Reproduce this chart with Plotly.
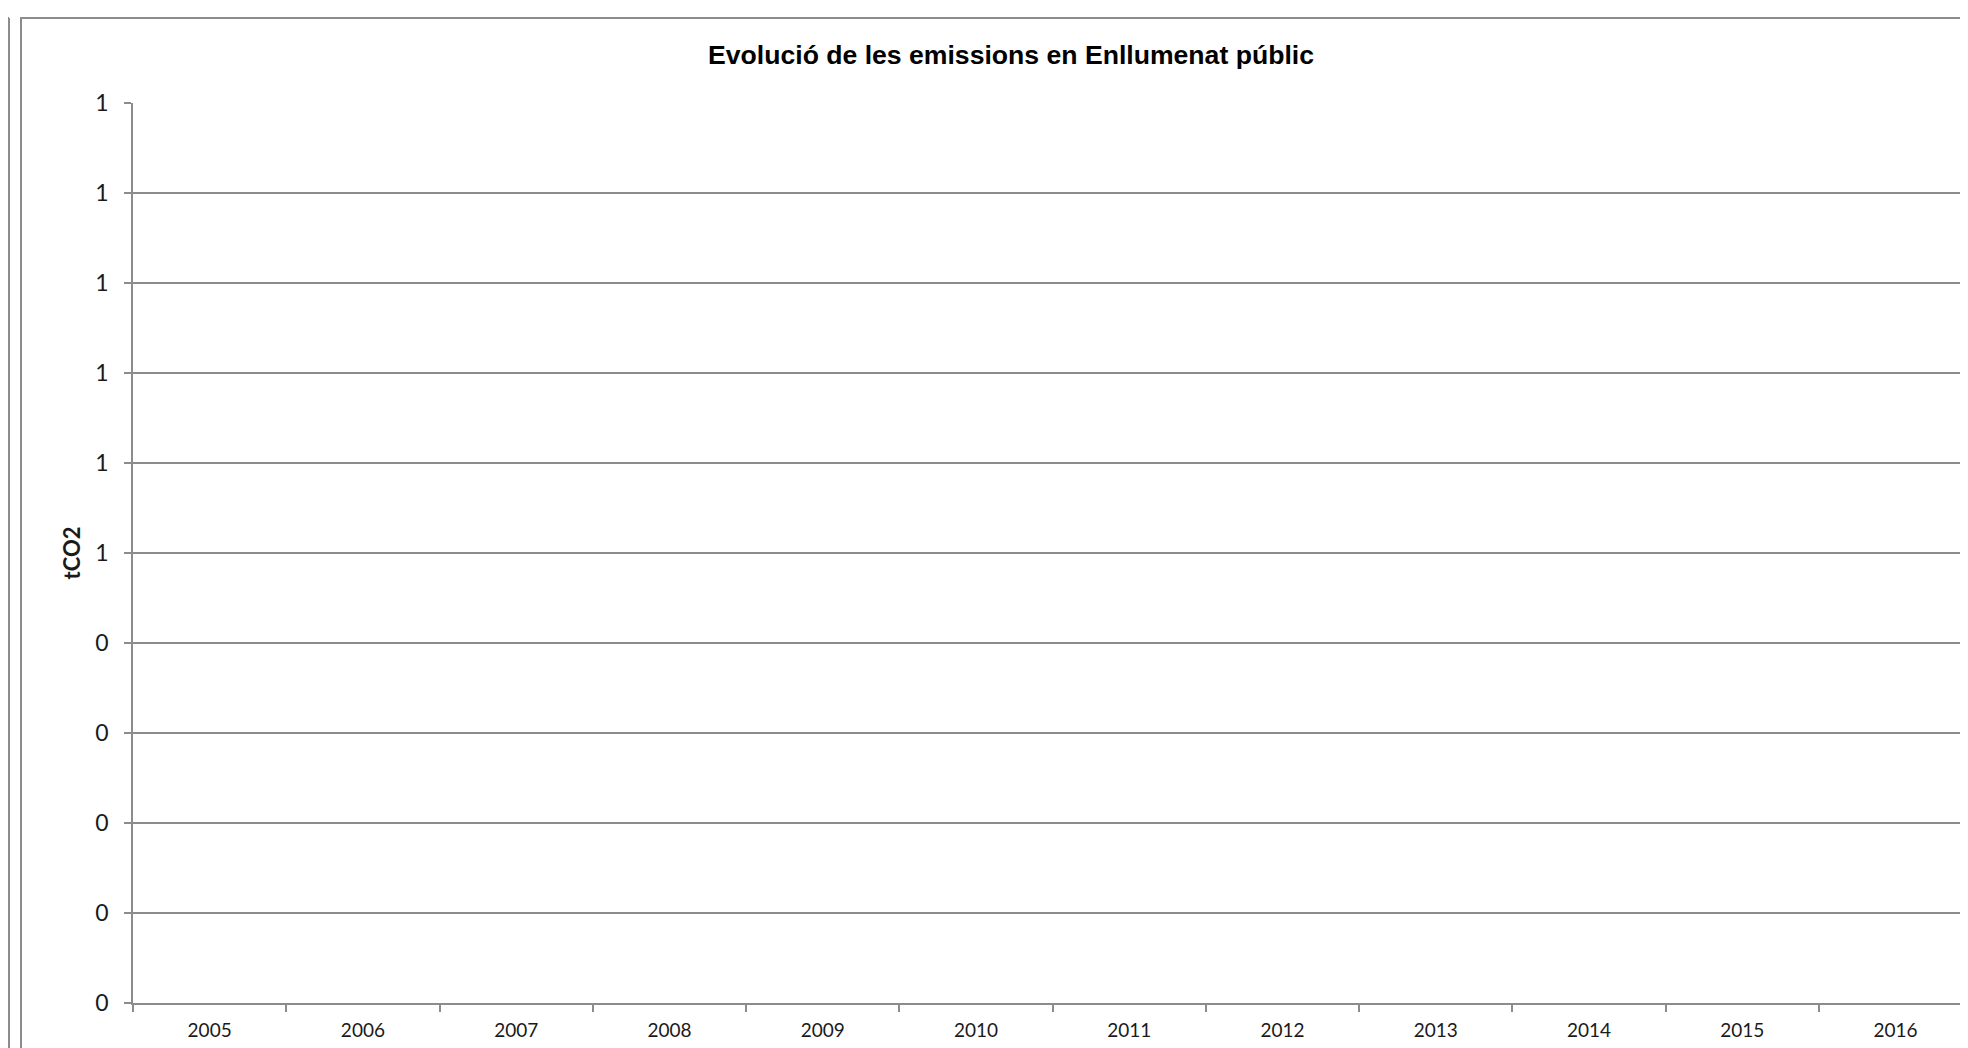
import plotly.graph_objects as go

# ---- data (the reference chart is empty: no values plotted) ----
years = ["2005", "2006", "2007", "2008", "2009", "2010",
         "2011", "2012", "2013", "2014", "2015", "2016"]
emissions = [None, None, None, None, None, None,
             None, None, None, None, None, None]
y_tickvals = [0.0, 0.1, 0.2, 0.3, 0.4, 0.5, 0.6, 0.7, 0.8, 0.9, 1.0]
y_ticktext = ["0", "0", "0", "0", "0", "1", "1", "1", "1", "1", "1"]
title_text = "Evolució de les emissions en Enllumenat públic"
y_title = "tCO2"

# the page body has an 8px margin, so the figure is 8px smaller than the window
OFF = 8
W, H = 1968 - OFF, 1048 - OFF
L, T = 133 - OFF, 103 - OFF
B = H - (1003 - OFF)
GRID = "#8c8c8c"
TXT = "#1a1a1a"

plot_w = W - L
plot_h = H - T - B
cat_w = 153.27

def px_x(px):  # page pixel -> paper coordinate
    return (px - OFF - L) / plot_w

def px_y(py):
    return (H - B - (py - OFF)) / plot_h

fig = go.Figure()
fig.add_trace(go.Scatter(x=years, y=emissions, mode="lines",
                         line=dict(color="#4f81bd"), showlegend=False,
                         hoverinfo="skip"))

fig.update_layout(
    width=W, height=H,
    margin=dict(l=L, r=0, t=T, b=B, pad=0),
    paper_bgcolor="white", plot_bgcolor="white",
    showlegend=False,
    title=dict(text=title_text,
               font=dict(family="Liberation Sans, Arial", size=26.6, color="#000000",
                         weight="bold"),
               x=(1011 - OFF) / W, xanchor="center",
               y=1 - (55 - OFF) / H, yanchor="middle",
               xref="container", yref="container"),
    xaxis=dict(
        type="category",
        categoryorder="array", categoryarray=years,
        range=[-0.5, -0.5 + plot_w / cat_w],
        showgrid=False, zeroline=False,
        showline=True, linecolor=GRID, linewidth=1.5,
        ticks="outside", tickson="boundaries", ticklen=7,
        tickcolor=GRID, tickwidth=1.5,
        ticklabelstandoff=9,
        tickfont=dict(family="Lato, Carlito, Calibri", size=19, color=TXT),
        fixedrange=True,
    ),
    yaxis=dict(
        range=[0, 1],
        tickmode="array", tickvals=y_tickvals, ticktext=y_ticktext,
        showgrid=True, gridcolor=GRID, gridwidth=1.5,
        zeroline=False,
        showline=True, linecolor=GRID, linewidth=1.5,
        ticks="outside", ticklen=7, tickcolor=GRID, tickwidth=1.5,
        ticklabelstandoff=11,
        tickfont=dict(family="Lato, Carlito, Calibri", size=23, color=TXT),
        title=dict(text=y_title,
                   font=dict(family="Lato, Carlito, Calibri", size=22, color=TXT,
                             weight="bold"),
                   standoff=9),
        fixedrange=True,
    ),
    shapes=[
        # chart frame (extends beyond the visible page, as in the reference crop)
        dict(type="rect", xref="paper", yref="paper",
             x0=px_x(21), x1=px_x(1968 + 40), y0=px_y(18), y1=px_y(1048 + 40),
             line=dict(color=GRID, width=2), fillcolor="rgba(0,0,0,0)",
             layer="below"),
        # right edge of the neighbouring chart on the far left
        dict(type="line", xref="paper", yref="paper",
             x0=px_x(9), x1=px_x(9), y0=px_y(18), y1=px_y(1048 + 40),
             line=dict(color=GRID, width=2)),
        dict(type="line", xref="paper", yref="paper",
             x0=px_x(-20), x1=px_x(9), y0=px_y(18), y1=px_y(18),
             line=dict(color=GRID, width=2)),
    ],
)

fig.write_html("out.html")
